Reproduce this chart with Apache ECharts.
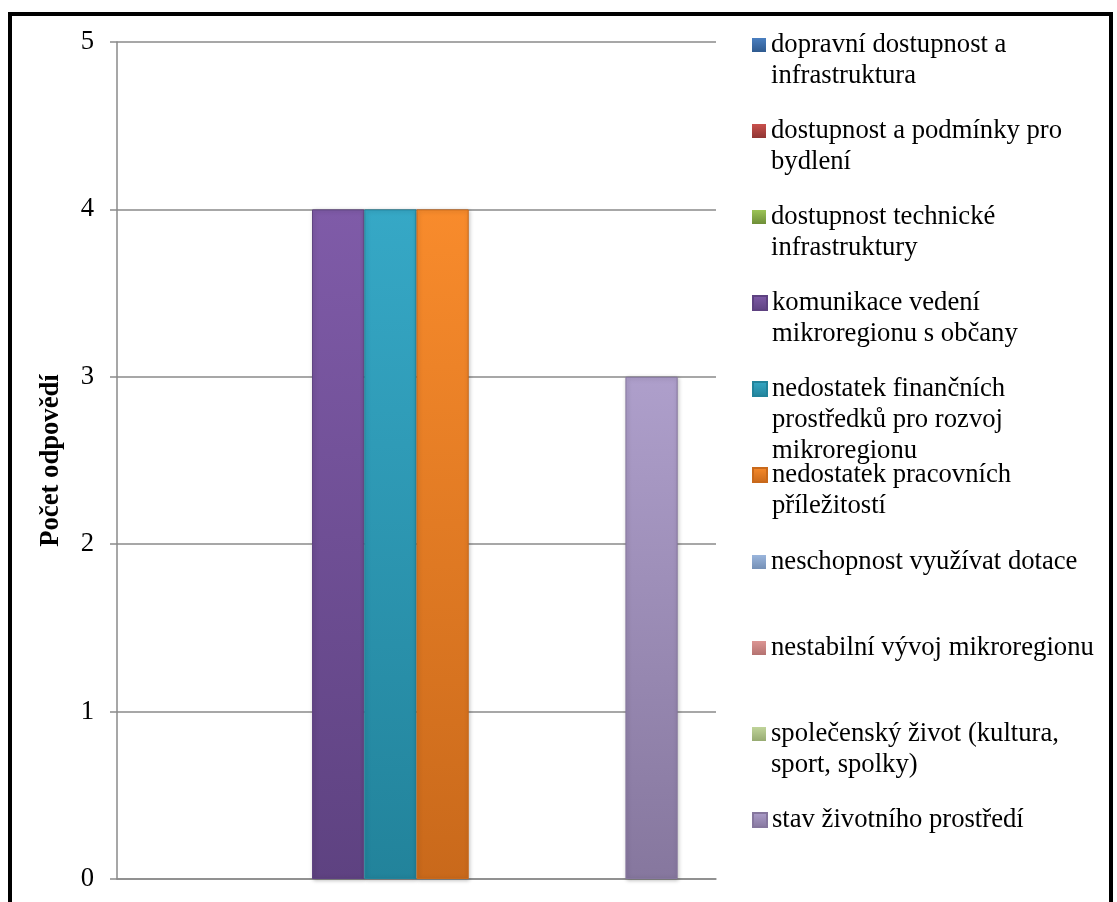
<!DOCTYPE html>
<html>
<head>
<meta charset="utf-8">
<script src="https://cdn.jsdelivr.net/npm/echarts@6/dist/echarts.min.js"></script>
<style>
html,body{margin:0;padding:0;background:#fff;width:1117px;height:902px;overflow:hidden;}
#frame{position:absolute;left:8px;top:12px;width:1097px;height:1000px;border:4px solid #000;box-sizing:content-box;}
#chart{position:absolute;left:0;top:0;width:1117px;height:902px;}
</style>
</head>
<body>
<div id="frame"></div>
<div id="chart"></div>
<script>
const categories = [''];
const seriesNames = [
  'dopravní dostupnost a infrastruktura',
  'dostupnost a podmínky pro bydlení',
  'dostupnost technické infrastruktury',
  'komunikace vedení mikroregionu s občany',
  'nedostatek finančních prostředků pro rozvoj mikroregionu',
  'nedostatek pracovních příležitostí',
  'neschopnost využívat dotace',
  'nestabilní vývoj mikroregionu',
  'společenský život (kultura, sport, spolky)',
  'stav životního prostředí'
];
const legendLines = [
  ['dopravní dostupnost a', 'infrastruktura'],
  ['dostupnost a podmínky pro', 'bydlení'],
  ['dostupnost technické', 'infrastruktury'],
  ['komunikace vedení', 'mikroregionu s občany'],
  ['nedostatek finančních', 'prostředků pro rozvoj', 'mikroregionu'],
  ['nedostatek pracovních', 'příležitostí'],
  ['neschopnost využívat dotace'],
  ['nestabilní vývoj mikroregionu'],
  ['společenský život (kultura,', 'sport, spolky)'],
  ['stav životního prostředí']
];
const seriesValues = [0, 0, 0, 4, 4, 4, 0, 0, 0, 3];
const yTicks = [0, 1, 2, 3, 4, 5];
const yAxisTitle = 'Počet odpovědí';

const topColors = ['#4a7fc0', '#c9504c', '#9cc455', '#7f5ba8', '#36a8c6', '#f88b2c', '#9ab5dc', '#dc9593', '#c0d49a', '#ae9fcb'];
const bottomColors = ['#2f5a8f', '#8f3533', '#6e8e38', '#5e4281', '#22839b', '#c9691b', '#7590b6', '#b47270', '#97ab72', '#86779e'];

const FONT = '"Liberation Serif", "Times New Roman", serif';
const FS = 26.67;
const LH = 31;

function grad(i) {
  return new echarts.graphic.LinearGradient(0, 0, 0, 1, [
    {offset: 0, color: topColors[i]},
    {offset: 1, color: bottomColors[i]}
  ]);
}

const legendCenters = [45, 131, 217, 303, 389, 475, 562, 648, 734, 820];
const legends = seriesNames.map((name, i) => {
  const n = legendLines[i].length;
  const blanks = new Array(n - 1).fill(' ');
  const text = blanks.concat(legendLines[i]).join('\n');
  return {
    data: [name],
    orient: 'vertical',
    left: 752,
    top: legendCenters[i] - (2 * n - 1) * LH / 2,
    padding: 0,
    itemWidth: 14,
    itemHeight: 14,
    icon: 'rect',
    formatter: () => text,
    textStyle: {
      fontFamily: FONT,
      fontSize: FS,
      color: '#000',
      lineHeight: LH
    }
  };
});

const series = seriesNames.map((name, i) => ({
  name: name,
  type: 'bar',
  data: categories.map(() => seriesValues[i]),
  barGap: '0%',
  barCategoryGap: '12.8%',
  itemStyle: {
    color: grad(i),
    borderColor: bottomColors[i],
    borderWidth: seriesValues[i] > 0 ? 1 : 0,
    shadowColor: 'rgba(0,0,0,0.25)',
    shadowBlur: 4,
    shadowOffsetX: 1,
    shadowOffsetY: 1
  },
  emphasis: {disabled: true}
}));

const chart = echarts.init(document.getElementById('chart'), null, {renderer: 'canvas'});
chart.setOption({
  animation: false,
  backgroundColor: 'transparent',
  grid: {left: 117, right: 401, top: 42, bottom: 23, containLabel: false},
  legend: legends,
  xAxis: {
    type: 'category',
    data: categories,
    axisLine: {show: true, lineStyle: {color: '#8a8a8a', width: 1.5}},
    axisTick: {show: false},
    axisLabel: {show: false}
  },
  yAxis: {
    type: 'value',
    min: yTicks[0],
    max: yTicks[yTicks.length - 1],
    interval: 1,
    name: yAxisTitle,
    nameLocation: 'middle',
    nameGap: 52,
    nameTextStyle: {fontFamily: FONT, fontSize: FS, fontWeight: 'bold', color: '#000'},
    axisLine: {show: true, lineStyle: {color: '#8a8a8a', width: 1.5}},
    axisTick: {show: true, length: 7, lineStyle: {color: '#8a8a8a', width: 1.5}},
    axisLabel: {fontFamily: FONT, fontSize: FS, color: '#000', margin: 23},
    splitLine: {show: true, lineStyle: {color: '#8a8a8a', width: 1.5}}
  },
  series: series
});
</script>
</body>
</html>
